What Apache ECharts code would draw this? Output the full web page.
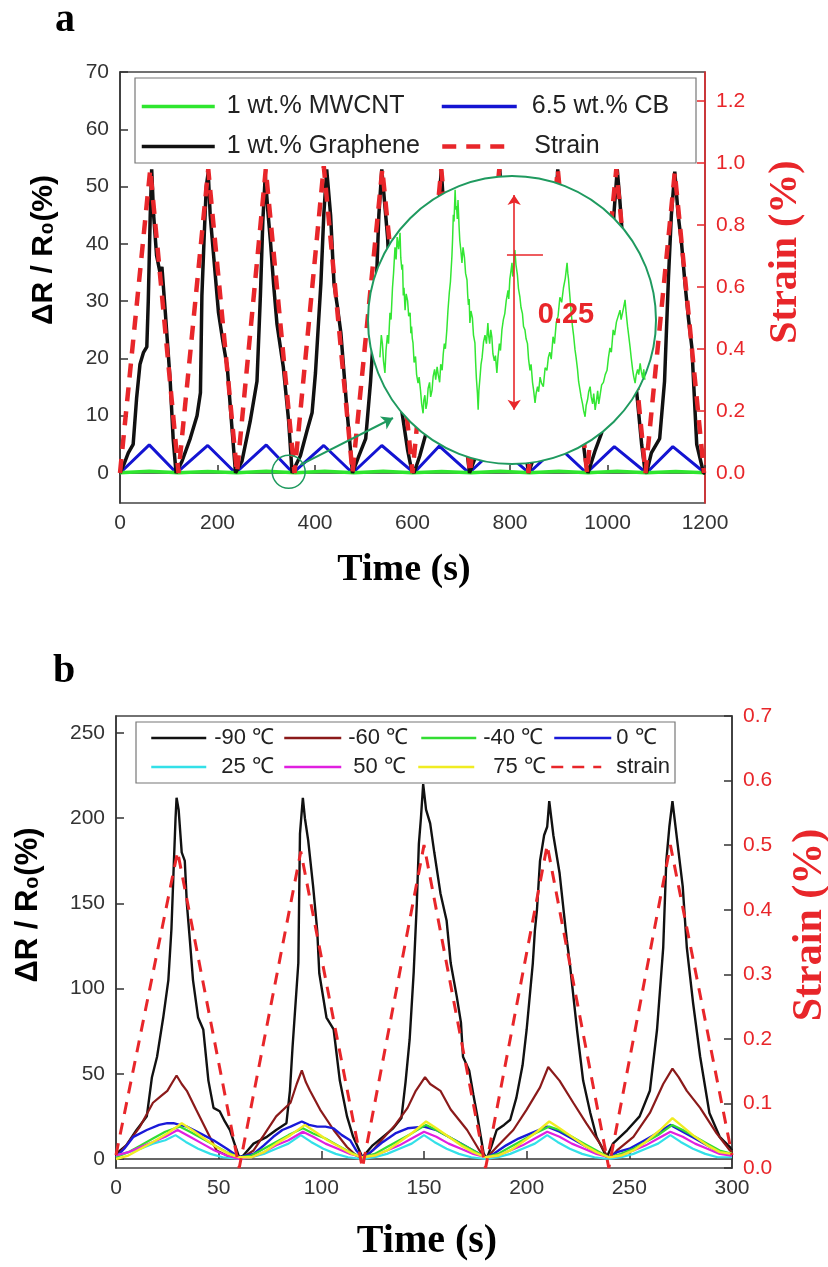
<!DOCTYPE html>
<html><head><meta charset="utf-8">
<script src="https://cdn.jsdelivr.net/npm/echarts/dist/echarts.min.js"></script>
<style>html,body{margin:0;padding:0;background:#fff}#c{width:828px;height:1267px}</style>
</head><body><div id="c"></div>
<script>
// ---------------- Panel a data (time s, value) ----------------
const strainA = [[0,0],[62,0.98],[120,0],[181,0.98],[240,0],[299,0.98],[358,0],[418,0.99],[477,0],[538,0.98],[600,0],[659,0.98],[718,0],[778,0.98],[838,0],[898,0.98],[958,0],[1018,0.98],[1078,0],[1138,0.97],[1198,0]];
const cbA = [[0,0],[60,4.9],[116,0],[180,4.8],[237,0],[300,4.9],[355,0],[418,4.8],[477,0],[537,4.8],[603,0],[655,4.7],[716,0],[775,4.7],[839,0],[898,4.7],[957,0],[1014,4.6],[1080,0],[1134,4.6],[1200,0]];
const mwcntA = [[0,0.05],[60,0.3],[120,0.05],[180,0.28],[240,0.06],[300,0.3],[360,0.05],[420,0.29],[480,0.06],[540,0.3],[600,0.05],[660,0.28],[720,0.06],[780,0.3],[840,0.05],[900,0.29],[960,0.05],[1020,0.3],[1080,0.06],[1140,0.28],[1200,0.05]];
const grapheneA = [
 [0,0],[8,1.5],[17,3.5],[27,5],[34,13],[41,19],[48,21],[55,22],[58,30],[62,45],[65,53],[69,45],[75,38],[82,35],[86,36],[93,28],[103,16],[109,6],[115,0],
 [127,2],[144,6],[158,10],[165,14],[168,31],[173,42],[177,50],[181,52.5],[185,45],[192,38],[202,28],[211,23],[220,18.5],[230,7.5],[237,0],
 [250,2],[267,9],[281,16],[288,31],[293,44],[298,52],[303,46],[309,40],[315,33],[322,26],[335,18.5],[346,9],[353,0],
 [370,3],[384,7.5],[394,10.5],[401,17.5],[412,33],[418,45],[424,53],[432,45],[439,33],[446,29],[453,24.5],[466,10.5],[477,0],
 [490,3],[504,6],[514,16],[525,31],[531,45],[537,53],[543,47],[549,41],[556,28],[566,20],[576,12],[590,4],[597,1],[603,0],
 [615,3],[628,7],[638,15],[646,30],[653,45],[659,53],[665,45],[672,38],[680,30],[690,22],[700,13],[710,5],[717,0],
 [730,3],[745,7],[757,14],[765,30],[772,45],[779,53],[785,45],[792,38],[800,29],[812,20],[825,10],[833,3],[838,0],
 [850,3],[865,7],[877,14],[885,30],[892,45],[898,53],[904,45],[912,38],[920,29],[932,20],[945,9],[955,2],[960,0],
 [975,4],[988,7],[998,15],[1006,30],[1013,45],[1020,53],[1025,48],[1030,42],[1040,30],[1052,20],[1060,14],[1070,5],[1076,1],[1080,0],
 [1090,3.5],[1107,6],[1117,16],[1125,34],[1131,45],[1138,52.6],[1145,45],[1152,40],[1159,33],[1166,27],[1173,22],[1183,5],[1197,0],[1200,0]];
// magnified MWCNT signal shown in the circular inset (s, ΔR/R0 %)
const insetMWCNT = [
 [323.3,0.124],[323.7,0.150],[324.0,0.140],[324.3,0.120],[324.7,0.106],[325.0,0.132],[325.4,0.150],[325.7,0.140],[326.1,0.176],[326.4,0.168],[326.8,0.205],[327.1,0.222],[327.5,0.252],[327.8,0.238],[328.1,0.264],[328.5,0.250],
 [328.9,0.269],[329.1,0.240],[329.4,0.226],[329.6,0.232],[329.8,0.196],[330.0,0.205],[330.3,0.179],[330.6,0.198],[331.0,0.190],[331.3,0.172],[331.7,0.176],[331.9,0.152],[332.1,0.160],[332.3,0.146],[332.5,0.141],[332.8,0.118],[333.2,0.125],[333.5,0.104],
 [333.9,0.094],[334.2,0.101],[334.6,0.085],[334.9,0.070],[335.3,0.059],[335.5,0.074],[335.8,0.080],[336.1,0.064],[336.4,0.071],[336.7,0.088],[337.1,0.095],[337.4,0.078],[337.8,0.086],[338.1,0.102],[338.5,0.110],[338.8,0.098],[339.2,0.113],[339.5,0.104],[339.9,0.095],
 [340.2,0.116],[340.6,0.109],[340.9,0.128],[341.2,0.140],[341.5,0.134],[341.9,0.156],[342.2,0.178],[342.6,0.200],[342.9,0.212],[343.3,0.241],[343.5,0.262],[343.7,0.290],[343.9,0.282],[344.2,0.319],[344.4,0.296],[344.6,0.300],[344.8,0.285],[345.0,0.307],[345.3,0.276],[345.5,0.260],
 [345.8,0.248],[346.1,0.234],[346.4,0.252],[346.8,0.240],[347.1,0.222],[347.5,0.214],[347.7,0.196],[347.9,0.185],[348.1,0.192],[348.3,0.164],[348.6,0.178],[349.0,0.170],[349.3,0.150],[349.7,0.141],[349.9,0.118],[350.1,0.100],[350.4,0.082],[350.6,0.063],[350.8,0.085],[351.1,0.100],
 [351.4,0.116],[351.7,0.124],[352.1,0.142],[352.5,0.150],[352.9,0.140],[353.3,0.164],[353.5,0.150],[353.8,0.140],[354.1,0.156],[354.4,0.148],[354.7,0.128],[355.1,0.120],[355.4,0.126],[355.8,0.106],[356.1,0.124],[356.5,0.140],[356.8,0.132],[357.2,0.156],[357.6,0.168],[358.0,0.175],
 [358.4,0.190],[358.9,0.202],[359.1,0.192],[359.4,0.215],[359.7,0.224],[360.0,0.234],[360.2,0.218],[360.4,0.225],[360.6,0.240],[360.8,0.249],[361.1,0.232],[361.5,0.220],[361.8,0.204],[362.2,0.194],[362.5,0.182],[362.9,0.175],[363.2,0.160],[363.6,0.156],[363.9,0.146],[364.3,0.140],
 [364.6,0.122],[365.0,0.109],[365.3,0.116],[365.7,0.095],[366.0,0.086],[366.4,0.071],[366.7,0.082],[367.1,0.090],[367.4,0.084],[367.8,0.101],[368.2,0.094],[368.7,0.090],[369.2,0.112],[369.7,0.109],[370.1,0.124],[370.5,0.130],[370.9,0.122],[371.4,0.148],[371.8,0.140],[372.3,0.165],[372.8,0.172],
 [373.3,0.194],[373.8,0.188],[374.3,0.205],[374.8,0.216],[375.3,0.234],[375.5,0.222],[375.7,0.215],[375.9,0.204],[376.1,0.194],[376.4,0.178],[376.8,0.160],[377.1,0.150],[377.5,0.133],[377.8,0.124],[378.2,0.110],[378.5,0.096],[378.9,0.086],[379.2,0.078],[379.6,0.070],
 [379.9,0.062],[380.3,0.055],[380.6,0.068],[381.0,0.075],[381.3,0.084],[381.7,0.090],[382.0,0.078],[382.4,0.070],[382.7,0.082],[383.1,0.063],[383.4,0.072],[383.8,0.085],[384.1,0.070],[384.4,0.078],[384.9,0.092],[385.4,0.095],[385.9,0.104],[386.4,0.109],[386.8,0.124],[387.2,0.135],
 [387.6,0.130],[388.1,0.156],[388.5,0.150],[389.0,0.165],[389.5,0.172],[390.0,0.179],[390.3,0.168],[390.7,0.170],[391.0,0.182],[391.4,0.191],[391.7,0.176],[392.1,0.160],[392.4,0.150],[392.8,0.136],[393.1,0.124],[393.5,0.110],[393.8,0.102],[394.2,0.094],[394.5,0.104],[394.9,0.110],
 [395.2,0.104],[395.6,0.117],[395.9,0.108],[396.3,0.100],[396.6,0.110],[396.9,0.098]];

// ---------------- Panel b data (time s, value) ----------------
const strainB = [[0,0.02],[30,0.49],[60,0],[90,0.49],[120,0],[150,0.5],[180,0],[210,0.5],[240,0],[270,0.5],[300,0.02]];
const m90 = [
 [0,3],[5,8],[10,17],[15,25],[17.5,48],[20,60],[23,83],[25.5,105],[27,135],[28,168],[29,200],[29.5,212],[30.5,205],[32,180],[33.5,175],[34.5,150],[36,128],[37.5,105],[40,83],[42.5,76],[45,46],[47.5,30],[50.5,28],[53,22],[55.5,17],[58,8],[60,1],
 [62,2],[67,9],[73.5,13],[78,17],[83,21],[84.7,40],[86,66],[88.8,115],[89.6,191],[91,212],[92,200],[93.6,187],[96,160],[98,134],[99,109],[102.5,83],[106,76],[109,46],[112.5,25],[115.5,13],[120,1],
 [125,8],[130,13],[135,18],[139,24],[141,45],[143,70],[145,110],[146.5,150],[147.5,185],[148.5,200],[149.6,220],[151,205],[153,197],[155,180],[158,156],[161,140],[163,115],[166,95],[168,80],[169,60],[172,52],[174,38],[176,25],[179,3.5],[180.5,0],
 [183,8],[185.4,17],[189,20],[192,23],[195,36],[198,55],[200,76],[203,115],[204,134],[205,146],[206.5,175],[208.5,190],[210,195],[211,210],[213,190],[216,168],[219.5,129],[221,115],[224.5,76],[227.5,46],[231,27],[234,13],[239,1],
 [242,9],[249,17],[255,25],[260,40],[263.5,76],[266.5,124],[268,175],[269.5,195],[271,210],[274,180],[276,160],[278,124],[281,92],[284.5,60],[289,27],[294,13],[299,7],[300,5]];
const m60 = [
 [0,1],[5,8],[11.7,19],[18,33],[22,37],[25,40],[27.5,45],[29.5,49],[32,44],[34.5,40],[39,29],[44,17],[49,5],[54,2],[57,0.5],[60,0],
 [63,2],[67,5],[72,14],[78,25],[85,33],[88,44],[90.5,52],[92.5,45],[94.5,40],[99.4,29],[106,17],[112.5,7],[117,2],[120,0],
 [125,5],[130,12],[136,20],[142,30],[146,40],[150.5,48],[153,44],[158,40],[163,29],[171,17],[177,5],[180,0],
 [185.4,7],[193.5,17],[200,29],[206.5,42],[210.5,54],[216,46],[222.7,33],[229,21],[235.7,9],[240,0],
 [244,5],[252,13],[260,27],[266.5,44],[271,53],[274,48],[278,40],[284.5,30],[292.5,15],[299,5],[300,4]];
const m40 = [
 [0,1],[6,4],[12,8],[18,12],[24,16],[31,19],[36,16],[42,12],[48,8],[54,4],[60,1],
 [66,2],[72,6],[78,10],[84,14],[91,18],[96,15],[102,12],[108,8],[114,4],[120,1],
 [126,3],[132,7],[138,11],[144,15],[151,20],[156,17],[162,13],[168,9],[174,5],[180,1],
 [186,3],[192,7],[198,11],[204,15],[211,19],[216,17],[222,13],[228,9],[234,5],[240,1],
 [246,3],[252,6],[258,10],[264,14],[271,20],[276,17],[282,13],[288,9],[294,5],[300,3]];
const p0 = [
 [0,1],[4,6],[8.5,13],[15,17],[21,20],[25,21],[28,21],[31,20],[34.5,19],[41,15],[47.5,11],[54,6],[60,1],
 [63,2],[67,3],[72,8],[76.6,13],[81,17],[85,19],[90.5,22],[94,20],[98,19],[102,19],[106,18],[110,14],[114,11],[117,5],[120,1],
 [124,4],[130,10],[136,15],[142,18],[150,19],[156,17],[162,13],[168,9],[174,5],[180,1],
 [184,3],[190,8],[196,12],[202,15],[210,19],[216,16],[222,12],[228,8],[234,4],[240,1],
 [244,4],[250,6],[256,10],[262,14],[270,20],[276,16],[282,12],[288,8],[294,4],[300,2]];
const p25 = [
 [0,2],[6,4],[12,6],[18,9],[24,11],[29,14],[34,10],[40,6],[46,3],[52,1],[60,0],
 [66,1],[72,3],[78,6],[84,9],[90,14],[95,10],[101,6],[107,3],[113,1],[120,0],
 [126,1],[132,3],[138,6],[144,9],[150,14],[155,10],[161,6],[167,3],[173,1],[180,0],
 [186,1],[192,3],[198,6],[204,9],[210,14],[215,10],[221,6],[227,3],[233,1],[240,0],
 [246,1],[252,3],[258,6],[264,9],[270,14],[275,10],[281,6],[287,3],[293,1],[300,1]];
const p50 = [
 [0,2],[6,4],[12,7],[18,10],[24,13],[30,17],[36,13],[42,9],[48,5],[54,2],[60,0],
 [66,1],[72,4],[78,8],[84,11],[91,16],[96,13],[102,9],[108,6],[114,3],[120,1],
 [126,2],[132,5],[138,8],[144,12],[150,16],[156,13],[162,9],[168,6],[174,3],[180,1],
 [186,2],[192,5],[198,8],[204,12],[210,16],[216,13],[222,9],[228,6],[234,3],[240,1],
 [246,2],[252,5],[258,8],[264,12],[270,16],[276,13],[282,9],[288,6],[294,3],[300,2]];
const p75 = [
 [0,0],[6,2],[12,6],[18,10],[25,15],[32,21],[37,17],[43,12],[49,7],[55,3],[60,1],
 [66,1],[72,4],[78,9],[85,14],[92,20],[97,16],[103,11],[109,7],[115,3],[120,1],
 [126,2],[132,5],[138,10],[145,16],[151,22],[156,18],[162,13],[168,8],[174,4],[180,1],
 [186,2],[192,5],[198,10],[205,16],[211,22],[216,18],[222,13],[228,8],[234,4],[240,1],
 [246,2],[252,5],[258,10],[265,17],[271,24],[276,19],[282,13],[288,8],[294,4],[300,3]];

// ---------------- Chart ----------------
const RED = '#e8262a', GREEN_C = '#1f9a5f';
const SANS = '"Liberation Sans", Arial, sans-serif';
const SERIF = '"Liberation Serif", "Times New Roman", serif';
const chart = echarts.init(document.getElementById('c'), null, {renderer:'canvas'});

function line(name, data, color, width, xi, yi, extra) {
  return Object.assign({type:'line', name, data, xAxisIndex:xi, yAxisIndex:yi, symbol:'none', showSymbol:false,
    lineStyle:{color, width}, itemStyle:{color}, z:2, silent:true, animation:false}, extra || {});
}
function dashed(name, data, color, width, dash, xi, yi) {
  return line(name, data, color, width, xi, yi, {lineStyle:{color, width, type:dash}});
}
function xAx(grid, min, max, interval) {
  return {type:'value', gridIndex:grid, min, max, interval,
    axisLine:{show:true, lineStyle:{color:'#333', width:1.5}},
    axisTick:{show:true, inside:true, length:8, lineStyle:{color:'#333', width:1.5}},
    axisLabel:{color:'#333', fontSize:21, fontFamily:SANS, margin:10, formatter: v => String(Math.round(v))},
    splitLine:{show:false}};
}
function yAx(grid, min, max, step, pos, lineColor, labelColor, fmt, showMin, showMax) {
  return {type:'value', gridIndex:grid, position:pos, min, max, minInterval:step, maxInterval:step,
    axisLine:{show:true, onZero:false, lineStyle:{color:lineColor, width:1.5}},
    axisTick:{show:true, inside:true, length:8, lineStyle:{color:lineColor, width:1.5}},
    axisLabel:{color:labelColor, fontSize:21, fontFamily:SANS, margin:11, showMinLabel:showMin, showMaxLabel:showMax,
      formatter: fmt},
    splitLine:{show:false}};
}
function leg(name, left, top, iw, ih, pad, fs, lw) {
  return {show:true, data:[name], left, top, itemWidth:iw, itemHeight:ih, padding:0, z:15, selectedMode:false,
    itemStyle:{opacity:0}, lineStyle:{width:lw},
    textStyle:{fontSize:fs, fontFamily:SANS, color:'#222', padding:[0,0,0,pad]}};
}
function txt(x, y, text, font, fill, rot) {
  return {type:'text', x, y, rotation:rot||0, z:20,
    style:{text, font, fill, align:'center', verticalAlign:'middle', textAlign:'center', textVerticalAlign:'middle'}};
}

const option = {
  animation:false,
  backgroundColor:'#fff',
  grid:[
    {left:120, top:72, width:585, height:431, show:true, borderColor:'#444', borderWidth:1.5, backgroundColor:'transparent', outerBoundsMode:'none'},
    {left:116, top:716, width:616, height:452, show:true, borderColor:'#444', borderWidth:1.5, backgroundColor:'transparent', outerBoundsMode:'none'},
    {left:368, top:176, width:288, height:288, show:false, outerBoundsMode:'none'}
  ],
  xAxis:[
    xAx(0, 0, 1200, 200),
    xAx(1, 0, 300, 50),
    {type:'value', gridIndex:2, min:320, max:400, show:false}
  ],
  yAxis:[
    yAx(0, -5.24, 70, 10, 'left', '#333', '#333', v => String(Math.round(v)), false, true),
    yAx(0, -0.097, 1.294, 0.2, 'right', RED, RED, v => v.toFixed(1), false, false),
    yAx(1, -5.3, 260, 50, 'left', '#333', '#333', v => String(Math.round(v)), false, false),
    yAx(1, 0, 0.7, 0.1, 'right', '#333', RED, v => v.toFixed(1), true, true),
    {type:'value', gridIndex:2, min:0, max:0.335, show:false}
  ],
  legend:[
    leg('1 wt.% MWCNT', 140, 94, 73, 24, 7, 25, 3.5),
    leg('6.5 wt.% CB', 440, 94, 75, 24, 10, 25, 3.5),
    leg('1 wt.% Graphene', 140, 134, 73, 24, 7, 25, 3.5),
    leg('Strain', 440, 134, 63, 24, 24, 25, 4.5),
    leg('-90 ℃', 150, 727, 55, 20, 3, 22, 2.5),
    leg('-60 ℃', 283, 727, 57, 20, 2, 22, 2.5),
    leg('-40 ℃', 420, 727, 55, 20, 2, 22, 2.5),
    leg('0 ℃', 553, 727, 57, 20, 0, 22, 2.5),
    leg('25 ℃', 150, 756, 55, 20, 10, 22, 2.5),
    leg('50 ℃', 283, 756, 57, 20, 7, 22, 2.5),
    leg('75 ℃', 417, 756, 56, 20, 14, 22, 2.5),
    leg('strain', 550, 756, 50, 20, 10, 22, 2.5)
  ],
  graphic:{elements:[
    {type:'rect', shape:{x:135, y:78, width:561, height:85}, style:{fill:'#fff', stroke:'#777', lineWidth:1.2}, z:12},
    {type:'rect', shape:{x:136, y:722, width:539, height:61}, style:{fill:'#fff', stroke:'#777', lineWidth:1.2}, z:12},
    {type:'circle', shape:{cx:512, cy:320, r:144}, style:{fill:'#fff', stroke:GREEN_C, lineWidth:2}, z:10},
    txt(65, 21, 'a', 'bold 40px ' + SERIF, '#000'),
    txt(64, 672, 'b', 'bold 40px ' + SERIF, '#000'),
    txt(44, 250, 'ΔR / R₀(%)', 'bold 30px ' + SANS, '#000', Math.PI/2),
    txt(786, 252, 'Strain (%)', 'bold 40px ' + SERIF, RED, Math.PI/2),
    txt(404, 570, 'Time (s)', 'bold 38px ' + SERIF, '#000'),
    txt(28, 905, 'ΔR / R₀(%)', 'bold 31px ' + SANS, '#000', Math.PI/2),
    txt(810, 925, 'Strain (%)', 'bold 42px ' + SERIF, RED, Math.PI/2),
    txt(427, 1242, 'Time (s)', 'bold 40px ' + SERIF, '#000')
  ]},
  series:[
    line('6.5 wt.% CB', cbA, '#1414d2', 3, 0, 0),
    line('1 wt.% MWCNT', mwcntA, '#2ee62e', 3.5, 0, 0, {
      markPoint:{symbol:'circle', symbolSize:33, z:5, silent:true, label:{show:false},
        itemStyle:{color:'rgba(0,0,0,0)', borderColor:GREEN_C, borderWidth:1.5},
        data:[{coord:[346, 0.2]}]},
      markLine:{symbol:['none','arrow'], symbolSize:11, z:5, silent:true, label:{show:false},
        lineStyle:{color:GREEN_C, width:2, type:'solid'},
        data:[[{coord:[370, 1.4]}, {coord:[560, 9.6]}]]}
    }),
    line('1 wt.% Graphene', grapheneA, '#111', 3.5, 0, 0),
    dashed('Strain', strainA, RED, 4.5, [14, 10], 0, 1),
    line('inset', insetMWCNT, '#33e633', 1.5, 2, 4, {z:20, clip:false,
      markLine:{silent:true, z:30, label:{show:false}, symbolSize:10,
        lineStyle:{color:RED, width:1.6, type:'solid'},
        data:[
          [{coord:[360.6, 0.063], symbol:'arrow'}, {coord:[360.6, 0.313], symbol:'arrow'}],
          [{coord:[358.6, 0.243], symbol:'none'}, {coord:[368.6, 0.243], symbol:'none'}]
        ]},
      markPoint:{silent:true, z:30, symbol:'rect', symbolSize:1, itemStyle:{color:'rgba(0,0,0,0)'},
        label:{show:true, position:'inside', formatter:'0.25', color:RED, fontSize:29, fontWeight:'bold', fontFamily:SANS},
        data:[{coord:[375, 0.173]}]}
    }),
    line('-90 ℃', m90, '#111', 2.4, 1, 2),
    line('-60 ℃', m60, '#8b1a1a', 2.2, 1, 2),
    line('0 ℃', p0, '#1a1ad8', 2.4, 1, 2),
    line('-40 ℃', m40, '#33dd33', 2.2, 1, 2),
    line('25 ℃', p25, '#33e0e8', 2.2, 1, 2),
    line('50 ℃', p50, '#e020e0', 2.2, 1, 2),
    line('75 ℃', p75, '#f0ec22', 2.4, 1, 2),
    dashed('strain', strainB, RED, 3, [12, 9], 1, 3)
  ]
};
chart.setOption(option);
</script></body></html>
